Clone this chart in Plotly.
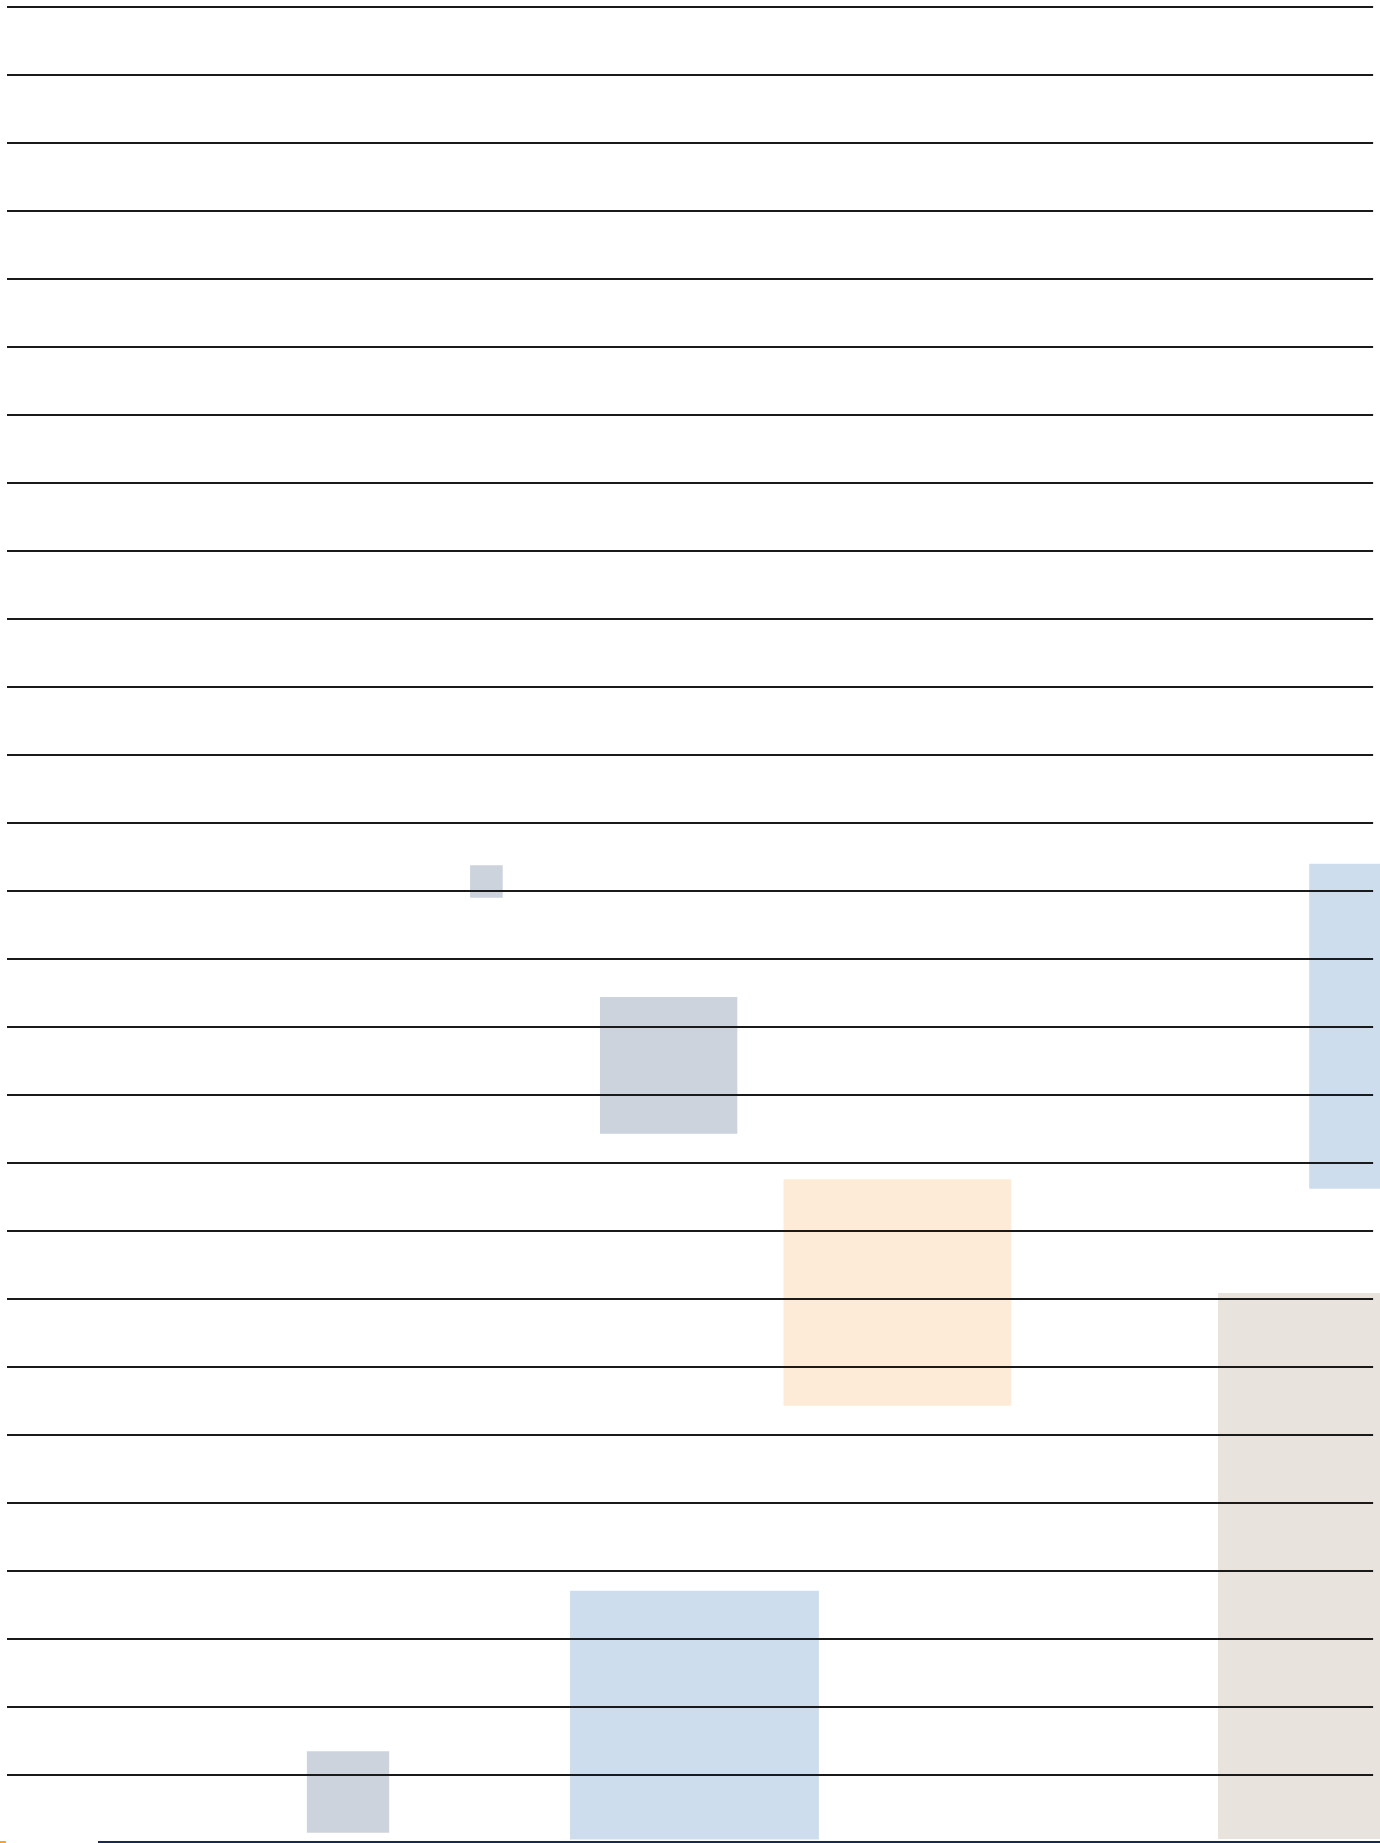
import plotly.graph_objects as go

# Row guide lines (one per row index)
rows = list(range(27))
line_start = 0.0
line_end = 20.09

# Shaded blocks (x0, x1, y0, y1 in row units)
block_x0 = [6.81, 8.72, 11.42, 19.15, 17.81, 8.28, 4.41]
block_x1 = [7.29, 10.74, 14.77, 23.93, 25.84, 11.94, 5.62]
block_y0 = [12.62, 14.56, 17.24, 12.60, 18.91, 23.29, 25.65]
block_y1 = [13.10, 16.57, 20.57, 17.38, 26.94, 26.95, 26.85]
block_colors = ["#CDD3DC", "#CDD3DC", "#FDEBD7", "#CEDDED", "#E8E3DC", "#CEDDED", "#CDD3DC"]

centers = [(a + b) / 2 for a, b in zip(block_x0, block_x1)]
widths = [b - a for a, b in zip(block_x0, block_x1)]
heights = [b - a for a, b in zip(block_y0, block_y1)]

fig = go.Figure()
fig.add_trace(go.Bar(
    x=centers, width=widths, base=block_y0, y=heights,
    marker=dict(color=block_colors, line=dict(width=0)),
    hoverinfo="skip", showlegend=False,
))

lx, ly = [], []
for r in rows:
    lx += [line_start, line_end, None]
    ly += [r, r, None]
fig.add_trace(go.Scatter(
    x=lx, y=ly, mode="lines",
    line=dict(color="#1a1a1a", width=2),
    hoverinfo="skip", showlegend=False,
))

W, H = 1380, 1843
unit = 68.0
off = 7.0
fig.update_layout(
    width=W, height=H,
    margin=dict(l=0, r=0, t=0, b=0, pad=0),
    paper_bgcolor="white", plot_bgcolor="white",
    barmode="overlay",
    xaxis=dict(visible=False, range=[-off / unit, (W - off) / unit], fixedrange=True),
    yaxis=dict(visible=False, range=[(H - off) / unit, -off / unit], fixedrange=True),
    shapes=[
        dict(type="rect", xref="paper", yref="paper", x0=98 / W, x1=1, y0=0, y1=2 / H,
             fillcolor="#1B2A47", line=dict(width=0), layer="above"),
        dict(type="rect", xref="paper", yref="paper", x0=0, x1=6 / W, y0=0, y1=2 / H,
             fillcolor="#F5A623", line=dict(width=0), layer="above"),
    ],
)

fig.write_html("out.html", config={"displayModeBar": False},
               post_script="document.body.style.margin='0';document.body.style.overflow='hidden';")
